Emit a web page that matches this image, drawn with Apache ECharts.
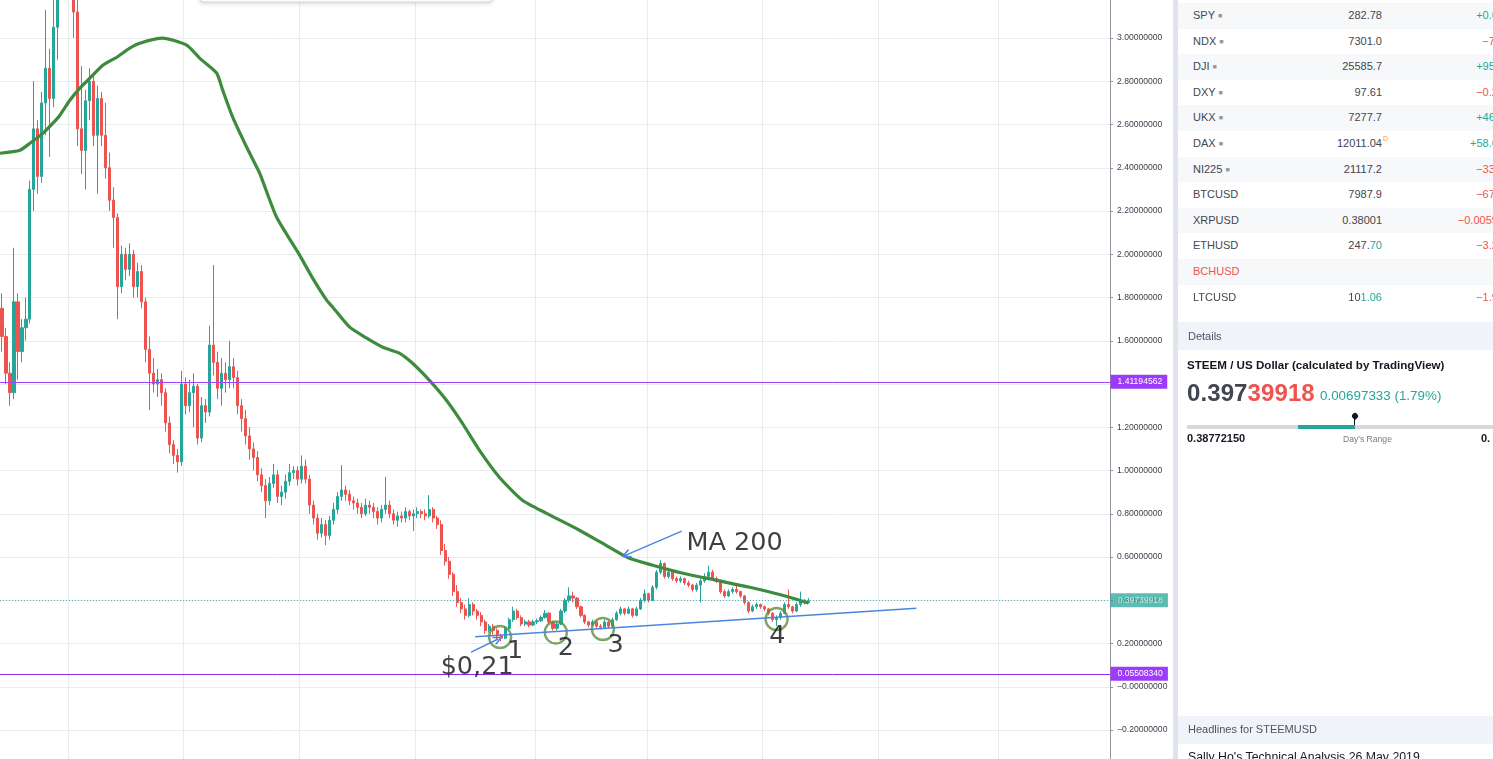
<!DOCTYPE html>
<html>
<head>
<meta charset="utf-8">
<script src="https://cdn.jsdelivr.net/npm/echarts@6/dist/echarts.min.js"></script>
<style>
  html,body{margin:0;padding:0;width:1493px;height:759px;overflow:hidden;background:#fff;}
  #chart{position:absolute;left:0;top:0;width:1493px;height:759px;}
  #panel{position:absolute;left:1173px;top:0;width:340px;height:759px;background:#fff;font-family:"Liberation Sans",Arial,sans-serif;color:#131722;}
  #panel .abs{position:absolute;white-space:nowrap;}
  .sep{left:0;top:0;width:5px;height:759px;background:#e0e3eb;}
  .row{left:5px;width:335px;height:25.6px;}
  .cell{position:absolute;top:0;height:25.6px;line-height:25.6px;font-size:11px;white-space:nowrap;}
  .up{color:#26a69a;} .down{color:#ef5350;}
</style>
</head>
<body>
<div id="chart"></div>
<div id="panel"></div>
<script>
// ---------------- data ----------------
const firstOpen = 1.75;
const closes = [
 1.62,1.45,1.36,1.78,1.55,1.66,1.70,2.30,2.58,2.36,
 2.70,2.86,2.72,3.05,3.40,3.80,3.60,3.90,3.12,2.58,
 2.48,2.71,2.80,2.55,2.72,2.55,2.40,2.25,2.17,1.85,
 2.00,1.93,2.00,1.85,1.92,1.78,1.56,1.45,1.40,1.42,
 1.36,1.22,1.12,1.07,1.04,1.40,1.30,1.36,1.39,1.15,
 1.30,1.27,1.58,1.50,1.38,1.45,1.42,1.48,1.43,1.30,
 1.24,1.16,1.10,1.06,0.98,0.93,0.86,0.94,0.98,0.88,
 0.90,0.95,0.99,1.00,0.96,1.02,0.96,0.84,0.78,0.71,
 0.75,0.70,0.77,0.82,0.88,0.91,0.89,0.86,0.85,0.83,
 0.80,0.84,0.83,0.81,0.78,0.82,0.84,0.80,0.77,0.79,
 0.78,0.81,0.79,0.80,0.81,0.80,0.79,0.82,0.78,0.75,
 0.63,0.58,0.52,0.44,0.39,0.36,0.33,0.38,0.35,0.33,
 0.30,0.26,0.28,0.26,0.235,0.225,0.27,0.31,0.35,0.32,
 0.29,0.30,0.285,0.30,0.305,0.32,0.34,0.30,0.27,0.29,
 0.35,0.40,0.42,0.41,0.37,0.33,0.30,0.285,0.30,0.28,
 0.275,0.30,0.28,0.31,0.34,0.36,0.34,0.36,0.33,0.36,
 0.40,0.43,0.40,0.46,0.53,0.57,0.51,0.53,0.50,0.49,
 0.50,0.48,0.47,0.45,0.47,0.49,0.51,0.53,0.50,0.49,
 0.44,0.42,0.44,0.45,0.44,0.42,0.39,0.35,0.37,0.38,
 0.37,0.36,0.34,0.31,0.32,0.34,0.38,0.37,0.35,0.38,
 0.40,0.39,0.3974
];
const highs = [
 1.82,1.66,1.50,2.03,1.82,1.70,1.80,2.34,2.80,2.62,
 2.75,3.13,2.95,3.30,3.60,4.10,4.00,4.20,3.95,3.20,
 2.87,2.76,2.86,2.84,2.78,2.75,2.70,2.47,2.31,2.19,
 2.04,2.03,2.05,2.02,1.96,1.95,1.80,1.62,1.52,1.47,
 1.45,1.38,1.25,1.14,1.10,1.46,1.43,1.42,1.45,1.40,
 1.34,1.33,1.67,1.95,1.55,1.52,1.50,1.60,1.52,1.46,
 1.33,1.28,1.20,1.13,1.09,1.01,0.96,0.97,1.03,1.00,
 0.93,0.98,1.03,1.02,1.02,1.07,1.05,0.98,0.86,0.80,
 0.78,0.77,0.79,0.85,0.90,1.025,0.93,0.91,0.88,0.87,
 0.85,0.87,0.86,0.85,0.83,0.84,0.97,0.86,0.82,0.81,
 0.81,0.83,0.82,0.82,0.83,0.82,0.82,0.886,0.83,0.79,
 0.77,0.66,0.60,0.53,0.47,0.41,0.38,0.41,0.39,0.36,
 0.345,0.31,0.29,0.29,0.27,0.245,0.28,0.32,0.37,0.36,
 0.33,0.31,0.31,0.31,0.315,0.33,0.355,0.345,0.305,0.30,
 0.36,0.41,0.46,0.44,0.415,0.375,0.335,0.305,0.31,0.305,
 0.29,0.31,0.305,0.32,0.35,0.37,0.365,0.37,0.365,0.37,
 0.41,0.45,0.435,0.47,0.54,0.585,0.575,0.55,0.54,0.51,
 0.51,0.505,0.49,0.475,0.48,0.50,0.525,0.56,0.54,0.51,
 0.495,0.45,0.45,0.46,0.47,0.445,0.425,0.395,0.38,0.39,
 0.385,0.375,0.365,0.345,0.33,0.35,0.39,0.45,0.375,0.39,
 0.44,0.405,0.41
];
const lows = [
 1.55,1.40,1.30,1.33,1.42,1.50,1.60,1.68,2.20,2.28,
 2.33,2.55,2.45,2.68,2.90,3.30,3.50,3.50,3.00,2.50,
 2.37,2.30,2.62,2.50,2.28,2.50,2.35,2.20,2.03,1.70,
 1.82,1.88,1.90,1.80,1.80,1.75,1.50,1.28,1.36,1.34,
 1.30,1.18,1.08,1.03,0.99,1.02,1.26,1.27,1.20,1.12,
 1.13,1.22,1.25,1.44,1.33,1.30,1.36,1.38,1.38,1.26,
 1.18,1.12,1.05,1.00,0.95,0.90,0.78,0.84,0.92,0.85,
 0.84,0.87,0.93,0.96,0.93,0.94,0.94,0.80,0.75,0.68,
 0.69,0.655,0.68,0.75,0.80,0.86,0.86,0.84,0.82,0.80,
 0.78,0.79,0.80,0.78,0.75,0.76,0.80,0.78,0.75,0.74,
 0.76,0.76,0.77,0.72,0.78,0.78,0.77,0.78,0.76,0.73,
 0.61,0.56,0.50,0.42,0.37,0.34,0.31,0.32,0.33,0.31,
 0.28,0.245,0.25,0.24,0.22,0.21,0.22,0.26,0.30,0.31,
 0.28,0.28,0.275,0.28,0.29,0.30,0.315,0.29,0.26,0.26,
 0.285,0.34,0.39,0.39,0.36,0.32,0.29,0.275,0.28,0.27,
 0.265,0.27,0.27,0.275,0.305,0.33,0.33,0.335,0.32,0.325,
 0.355,0.39,0.39,0.395,0.45,0.52,0.50,0.50,0.49,0.48,
 0.48,0.47,0.46,0.44,0.44,0.39,0.48,0.50,0.49,0.48,
 0.43,0.41,0.415,0.43,0.43,0.41,0.38,0.34,0.345,0.36,
 0.36,0.35,0.33,0.30,0.28,0.31,0.335,0.36,0.34,0.345,
 0.37,0.38,0.385
];
// MA 200 (candle index, value)
const maIdx = [-0.5,4.5,7,10.25,12.75,14.5,17,19.5,22,25.25,28.75,32,34.5,40.25,46.25,49.5,53.75,55.25,57.75,61.25,64.5,68.75,74.5,77.5,81.25,82.75,87,91.25,95.25,99.5,102.75,107,111.25,115.25,119.5,124.5,130.25,136.25,144.5,150.25,157,162.75,170.25,178.75,187,195.25,202];
const maVal = [2.467,2.481,2.513,2.559,2.606,2.643,2.712,2.768,2.814,2.874,2.911,2.953,2.976,2.999,2.967,2.907,2.838,2.760,2.635,2.496,2.376,2.172,1.997,1.899,1.789,1.757,1.664,1.613,1.571,1.543,1.497,1.418,1.326,1.220,1.095,0.970,0.864,0.803,0.725,0.665,0.595,0.563,0.526,0.493,0.461,0.424,0.387];
// horizontal levels
const levelPurple = [1.41194562, 0.05508340];
const lastPrice = 0.39739918;
// trend line (index, value)
const trendFrom = [118.5, 0.2314];
const trendTo = [229, 0.3628];
// arrows
const arrowMA = [[170.25, 0.720], [156.25, 0.609]];
const arrowLow = [[117.5, 0.160], [124.25, 0.2208]];
// circled touches
const touchIdx = [124.75, 138.7, 150.5, 194];
const touchVal = [0.230, 0.251, 0.267, 0.313];
// text annotations
const noteText = ['MA 200', '$0,21', '1', '2', '3', '4'];
const noteIdx = [183.5, 119, 128.5, 141.2, 153.7, 194.2];
const noteVal = [0.665, 0.091, 0.162, 0.179, 0.193, 0.234];
// vertical grid lines (category boundaries)
const vGridIdx = [17, 46, 75, 104, 134, 162, 191, 220, 250];
const slotCount = 278;
const categories = Array.from({length: slotCount}, (_, i) => String(i));

// watchlist
const watchSymbols = ['SPY','NDX','DJI','DXY','UKX','DAX','NI225','BTCUSD','XRPUSD','ETHUSD','BCHUSD','LTCUSD'];
const watchDot = [1,1,1,1,1,1,1,0,0,0,0,0];
const watchLast = ['282.78','7301.0','25585.7','97.61','7277.7','12011.04','21117.2','7987.9','0.38001','247.','','10'];
const watchLastHi = ['','','','','','','','','','70','','1.06'];
const watchChange = ['+0.66','\u22127.5','+95.2','\u22120.23','+46.1','+58.60','\u221233.2','\u221267.2','\u22120.00599','\u22123.22','','\u22121.91'];

// ---------------- chart ----------------
const candleData = closes.map((c, i) => [i === 0 ? firstOpen : closes[i - 1], c, lows[i], highs[i]]);
const chart = echarts.init(document.getElementById('chart'), null, {renderer: 'canvas'});
const fmt = v => Math.abs(v) < 1e-9 ? '\u22120.00000000' : v.toFixed(8).replace('-', '\u2212');
const gridCol = '#e7ecf1';
const levelLabel = (bg, val) => ({
  show: true, position: 'end', distance: 0.5, formatter: () => fmt(val),
  backgroundColor: bg, color: '#ffffff', padding: [3, 5, 2, 7], fontSize: 8.6,
  fontFamily: 'Liberation Sans'
});
const chevron = 'path://M5,0 L10,9 L8.6,10 L5,3.4 L1.4,10 L0,9 Z';

chart.setOption({
  animation: false,
  backgroundColor: '#ffffff',
  grid: {left: 0, right: 383, top: -5.25, bottom: -14.25, containLabel: false, outerBoundsMode: 'none'},
  xAxis: [
    {type: 'category', data: categories, boundaryGap: true,
     axisLine: {show: false}, axisTick: {show: false}, axisLabel: {show: false},
     splitLine: {show: true, interval: (i) => vGridIdx.includes(i), lineStyle: {color: gridCol, width: 1}}},
    {type: 'value', min: -0.5, max: slotCount - 0.5, show: false, splitLine: {show: false}}
  ],
  yAxis: {
    type: 'value', position: 'right', min: -0.4, max: 3.2, interval: 0.2,
    axisLine: {show: true, onZero: false, lineStyle: {color: '#8f939b'}},
    axisTick: {show: true, length: 3, lineStyle: {color: '#8f939b'}},
    axisLabel: {margin: 7, fontSize: 8.6, color: '#3b3f4a', fontFamily: 'Liberation Sans', formatter: fmt},
    splitLine: {show: true, lineStyle: {color: gridCol, width: 1}}
  },
  graphic: [{
    type: 'rect', shape: {x: 200, y: -26, width: 292, height: 28, r: 3},
    style: {fill: '#ffffff', stroke: '#d6dae1', lineWidth: 1, shadowBlur: 4, shadowColor: 'rgba(0,0,0,0.15)', shadowOffsetY: 1},
    z: 50
  }],
  series: [
    {
      type: 'candlestick', name: 'STEEMUSD', data: candleData, barWidth: 2.6, silent: true,
      itemStyle: {color: '#26a69a', color0: '#ef5350', borderColor: '#26a69a', borderColor0: '#ef5350', borderWidth: 1},
      markLine: {
        silent: true, symbol: 'none', animation: false,
        data: [
          {yAxis: levelPurple[0], lineStyle: {color: '#a642f5', width: 1, type: 'solid'}, label: levelLabel('#9d3cf8', levelPurple[0])},
          {yAxis: levelPurple[1], lineStyle: {color: '#9226f5', width: 1, type: 'solid'}, label: levelLabel('#9d3cf8', levelPurple[1])},
          {yAxis: lastPrice, lineStyle: {color: '#26a69a', width: 1, type: [1, 2], opacity: 0.75}, label: levelLabel('#26a69a', lastPrice)}
        ]
      }
    },
    {
      type: 'line', name: 'MA 200', xAxisIndex: 1, data: maIdx.map((x, i) => [x, maVal[i]]),
      smooth: 0.2, showSymbol: false, silent: true,
      lineStyle: {color: '#3d8b3d', width: 3.2}, z: 3
    },
    {
      type: 'scatter', name: 'touches', xAxisIndex: 1, data: touchIdx.map((x, i) => [x, touchVal[i]]),
      symbol: 'circle', symbolSize: 22, silent: true,
      itemStyle: {color: 'rgba(0,0,0,0)', borderColor: '#5e8f3e', borderWidth: 2.4}, z: 4,
      markLine: {
        silent: true, animation: false, label: {show: false},
        lineStyle: {color: '#4a86e0', width: 1.4, type: 'solid'},
        symbol: ['none', chevron], symbolSize: [9, 10],
        data: [
          [{coord: trendFrom, symbol: 'none'}, {coord: trendTo, symbol: 'none'}],
          [{coord: arrowMA[0]}, {coord: arrowMA[1]}],
          [{coord: arrowLow[0]}, {coord: arrowLow[1]}]
        ]
      }
    },
    {
      type: 'scatter', name: 'notes', xAxisIndex: 1,
      data: noteIdx.map((x, i) => [x, noteVal[i], noteText[i]]),
      symbol: 'circle', symbolSize: 0.1, silent: true, itemStyle: {color: 'rgba(0,0,0,0)'}, z: 6,
      label: {
        show: true, position: 'inside', formatter: p => p.value[2], color: '#0d0f14',
        fontFamily: 'DejaVu Sans', fontSize: 25.5
      }
    }
  ]
});

// ---------------- side panel ----------------
const P = document.getElementById('panel');
function add(html, style, cls) {
  const d = document.createElement('div');
  d.className = 'abs' + (cls ? ' ' + cls : '');
  d.style.cssText = style;
  d.innerHTML = html;
  P.appendChild(d);
  return d;
}
add('', '', 'sep');
watchSymbols.forEach((s, k) => {
  const top = 3 + k * 25.6;
  const row = add('', `top:${top}px;background:${k % 2 === 0 ? '#f7f8fa' : '#ffffff'};`, 'row');
  const symColor = s === 'BCHUSD' ? '#ef5350' : '#434651';
  row.innerHTML =
    `<div class="cell" style="left:15px;color:${symColor}">${s}${watchDot[k] ? ' <span style="color:#9598a1;font-size:7px;vertical-align:1px">&#9632;</span>' : ''}</div>` +
    `<div class="cell" style="right:${335 - 204}px;text-align:right;color:#434651">${watchLast[k]}${watchLastHi[k] ? '<span class="up">' + watchLastHi[k] + '</span>' : ''}</div>` +
    (s === 'DAX' ? `<div class="cell" style="left:205px;top:-5px;font-size:7px;color:#ff9800">D</div>` : '') +
    `<div class="cell ${watchChange[k].startsWith('+') ? 'up' : 'down'}" style="right:${335 - 326}px;text-align:right">${watchChange[k]}</div>`;
});
// details header
add('', 'left:5px;top:322px;width:335px;height:28px;background:#f0f3fa;');
add('Details', 'left:15px;top:330px;font-size:11px;color:#50535e;');
add('STEEM / US Dollar (calculated by TradingView)', 'left:14px;top:358px;font-size:11.6px;font-weight:bold;color:#131722;');
add('0.397<span style="color:#ef5350">39918</span>', 'left:14px;top:379px;font-size:24px;font-weight:bold;color:#434651;letter-spacing:0.1px;');
add('0.00697333 (1.79%)', 'left:147px;top:388px;font-size:13.4px;color:#26a69a;');
add('', 'left:14px;top:425px;width:330px;height:4px;background:#d6d8de;');
add('', 'left:125px;top:425px;width:57px;height:4px;background:#26a69a;');
add('', 'left:178.5px;top:413px;width:6px;height:6px;background:#131722;border-radius:50% 50% 50% 0;transform:rotate(-45deg);');
add('', 'left:181px;top:418px;width:1px;height:7px;background:#131722;');
add('0.38772150', 'left:14px;top:432px;font-size:11px;font-weight:bold;color:#131722;');
add("Day's Range", 'left:170px;top:434px;font-size:8.6px;color:#787b86;');
add('0.', 'left:308px;top:432px;font-size:11px;font-weight:bold;color:#131722;');
// headlines
add('', 'left:5px;top:716px;width:335px;height:28px;background:#f0f3fa;');
add('Headlines for STEEMUSD', 'left:15px;top:723px;font-size:11px;color:#50535e;');
add("Sally Ho's Technical Analysis 26 May 2019", 'left:15px;top:750px;font-size:12.3px;color:#131722;');
</script>
</body>
</html>
